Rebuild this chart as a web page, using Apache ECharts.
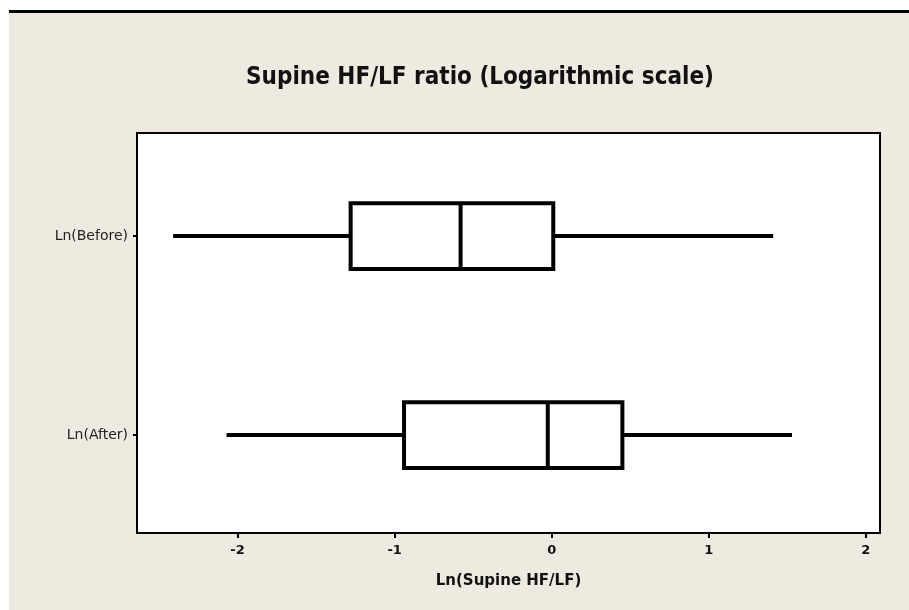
<!DOCTYPE html>
<html>
<head>
<meta charset="utf-8">
<script src="https://cdn.jsdelivr.net/npm/echarts@6/dist/echarts.min.js"></script>
<style>
  html, body { margin: 0; padding: 0; background: #ffffff; }
  #main { width: 909px; height: 610px; }
</style>
</head>
<body>
<div id="main"></div>
<script>
// ---- data ----
const categories = ['Ln(Before)', 'Ln(After)'];
const minVals    = [-2.41, -2.07];
const q1Vals     = [-1.28, -0.94];
const medianVals = [-0.58, -0.025];
const q3Vals     = [0.01, 0.45];
const maxVals    = [1.41, 1.53];
const xTickValues = [-2, -1, 0, 1, 2];
const yTickValues = [0, 1];
const xMin = -2.64;
const xMax = 2.09;
const yMin = -0.518;
const yMax = 1.492;

const boxData = categories.map((c, i) => [i, minVals[i], q1Vals[i], medianVals[i], q3Vals[i], maxVals[i]]);

const chart = echarts.init(document.getElementById('main'));

function renderBox(params, api) {
  const cat = api.value(0);
  const pMin = api.coord([api.value(1), cat]);
  const pQ1 = api.coord([api.value(2), cat]);
  const pMed = api.coord([api.value(3), cat]);
  const pQ3 = api.coord([api.value(4), cat]);
  const pMax = api.coord([api.value(5), cat]);
  const bandH = Math.abs(api.size([0, 1])[1]);
  const h = bandH * 0.33;
  const y = pMed[1];
  const st = { stroke: '#000', lineWidth: 4, fill: null };
  return {
    type: 'group',
    children: [
      { type: 'line', shape: { x1: pMin[0], y1: y, x2: pQ1[0], y2: y }, style: st },
      { type: 'line', shape: { x1: pQ3[0], y1: y, x2: pMax[0], y2: y }, style: st },
      { type: 'rect', shape: { x: pQ1[0], y: y - h / 2, width: pQ3[0] - pQ1[0], height: h }, style: { stroke: '#000', lineWidth: 4, fill: '#fff' } },
      { type: 'line', shape: { x1: pMed[0], y1: y - h / 2, x2: pMed[0], y2: y + h / 2 }, style: st }
    ]
  };
}

chart.setOption({
  backgroundColor: '#efeae0',
  animation: false,
  graphic: [
    { type: 'rect', left: 0, top: 0, shape: { width: 9, height: 610 }, style: { fill: '#ffffff' }, silent: true },
    { type: 'rect', left: 0, top: 0, shape: { width: 909, height: 10 }, style: { fill: '#ffffff' }, silent: true },
    { type: 'rect', left: 9, top: 10, shape: { width: 900, height: 3 }, style: { fill: '#000000' }, silent: true }
  ],
  title: {
    text: 'Supine HF/LF ratio (Logarithmic scale)',
    left: 475,
    textAlign: 'center',
    top: 61,
    textStyle: { fontFamily: '"DejaVu Sans Condensed", sans-serif', fontWeight: 'bold', fontSize: 24, color: '#111' }
  },
  grid: {
    left: 137, right: 29, top: 133, bottom: 77,
    show: true, backgroundColor: '#ffffff', borderColor: '#000', borderWidth: 2
  },
  xAxis: {
    type: 'value',
    position: 'bottom',
    min: xMin, max: xMax,
    name: 'Ln(Supine HF/LF)',
    nameLocation: 'middle',
    nameGap: 41,
    nameTextStyle: { fontFamily: '"DejaVu Sans", sans-serif', fontWeight: 'bold', fontSize: 15, color: '#111' },
    splitLine: { show: false },
    axisLine: { show: false, onZero: false },
    axisTick: { show: true, length: 5, lineStyle: { color: '#000', width: 2 }, customValues: xTickValues },
    axisLabel: { customValues: xTickValues, margin: 11, fontFamily: '"DejaVu Sans", sans-serif', fontWeight: 'bold', fontSize: 13, color: '#111' }
  },
  yAxis: {
    type: 'value',
    position: 'left',
    min: yMin, max: yMax,
    inverse: true,
    axisLine: { show: false, onZero: false },
    splitLine: { show: false },
    axisTick: { show: true, length: 4, lineStyle: { color: '#000', width: 2 }, customValues: yTickValues },
    axisLabel: {
      customValues: yTickValues,
      formatter: v => categories[Math.round(v)] || '',
      margin: 9,
      fontFamily: '"DejaVu Sans", sans-serif', fontSize: 14, color: '#222'
    }
  },
  series: [{
    type: 'custom',
    renderItem: renderBox,
    encode: { x: [1, 2, 3, 4, 5], y: 0 },
    data: boxData
  }]
});
</script>
</body>
</html>
